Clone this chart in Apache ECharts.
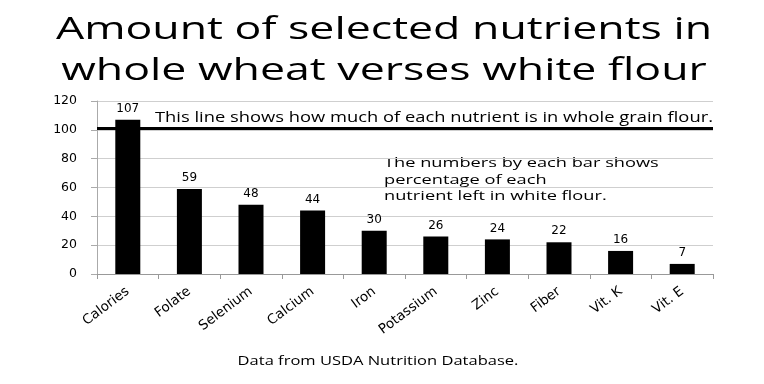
<!DOCTYPE html>
<html><head><meta charset="utf-8">
<script src="https://cdn.jsdelivr.net/npm/echarts@6/dist/echarts.min.js"></script>
<style>html,body{margin:0;padding:0;background:#fff}#c{width:764px;height:384px}</style>
</head><body><div id="c"></div>
<script>
const categories = ['Calories','Folate','Selenium','Calcium','Iron','Potassium','Zinc','Fiber','Vit. K','Vit. E'];
const values = [107,59,48,44,30,26,24,22,16,7];
const referenceValue = 101;
const yTicks = {min:0, max:120, interval:20};
const titleText = 'Amount of selected nutrients in\nwhole wheat verses white flour';
const noteLine = 'This line shows how much of each nutrient is in whole grain flour.';
const noteBars = 'The numbers by each bar shows\npercentage of each\nnutrient left in white flour.';
const sourceText = 'Data from USDA Nutrition Database.';

const font = '"Open Sans", "Noto Sans", sans-serif';
const numFont = '"DejaVu Sans", sans-serif';
const chart = echarts.init(document.getElementById('c'));
chart.setOption({
  animation:false,
  backgroundColor:'#fff',
  grid:{left:97, right:51, top:101, bottom:110, containLabel:false},
  xAxis:{
    type:'category', data:categories,
    axisLine:{lineStyle:{color:'#999', width:1}},
    axisTick:{show:true, alignWithLabel:false, length:5, lineStyle:{color:'#999'}},
    axisLabel:{rotate:37, color:'#000', fontFamily:numFont, fontSize:13.5, margin:16, interval:0}
  },
  yAxis:{
    type:'value', min:yTicks.min, max:yTicks.max, interval:yTicks.interval,
    axisLine:{show:true, lineStyle:{color:'#aaa'}},
    axisTick:{show:true, length:6, lineStyle:{color:'#aaa'}},
    axisLabel:{color:'#000', fontFamily:numFont, fontSize:12.5, margin:20},
    splitLine:{lineStyle:{color:'#cfcfcf', width:1}}
  },
  series:[{
    type:'bar', data:values, barWidth:25,
    itemStyle:{color:'#000'},
    label:{show:true, position:'top', color:'#000', fontFamily:numFont, fontSize:12, distance:5},
    markLine:{
      silent:true, symbol:'none',
      lineStyle:{color:'#000', width:3, type:'solid'},
      label:{show:false},
      data:[{yAxis:referenceValue}]
    }
  }],
  graphic:[
    {type:'text', x:384, y:10, scaleX:1.44, style:{text:titleText, align:'center', verticalAlign:'top', fontFamily:font, fontSize:31, lineHeight:41, fill:'#000'}},
    {type:'text', x:155, y:111, scaleX:1.31, style:{text:noteLine, align:'left', verticalAlign:'top', fontFamily:font, fontSize:14, fill:'#000'}},
    {type:'text', x:384, y:155, scaleX:1.35, style:{text:noteBars, align:'left', verticalAlign:'top', fontFamily:font, fontSize:13.5, lineHeight:16.5, fill:'#000'}},
    {type:'text', x:378, y:355, scaleX:1.27, style:{text:sourceText, align:'center', verticalAlign:'top', fontFamily:font, fontSize:13, fill:'#000'}}
  ]
});
</script></body></html>
